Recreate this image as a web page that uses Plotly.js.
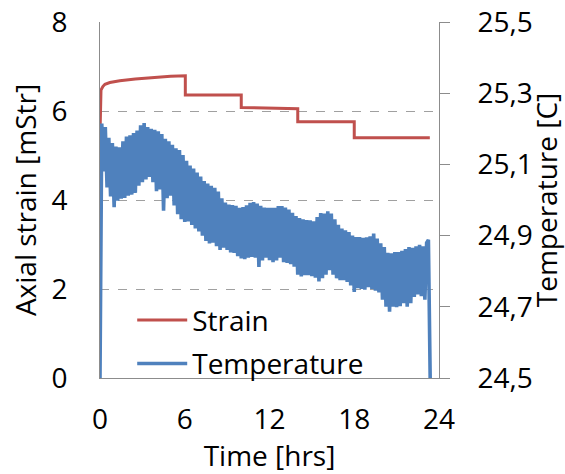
<!DOCTYPE html>
<html>
<head>
<meta charset="utf-8">
<script src="https://cdn.plot.ly/plotly-3.0.1.min.js"></script>
<style>
html,body{margin:0;padding:0;background:#fff;}
#chart{width:565px;height:474px;}
</style>
</head>
<body>
<div id="chart"></div>
<script>
// Strain series (step-like), time in hours
var strainTime = [0, 0.03, 0.07, 0.2, 0.35, 0.7, 1.4, 2.5, 3.5, 5.0, 6.04, 6.04, 10.0, 10.0, 14.0, 14.0, 18.0, 18.0, 23.35];
var strainValues = [5.46, 6.2, 6.47, 6.55, 6.6, 6.64, 6.68, 6.72, 6.75, 6.78, 6.79, 6.36, 6.36, 6.08, 6.05, 5.76, 5.76, 5.40, 5.40];

// Temperature series, sampled every 0.125 h starting at 0 h (readings off the noisy band)
var tempStart = 0;
var tempStep = 0.125;
var tempValues = [
24.500, 25.215, 25.080, 25.205, 25.035, 25.175, 25.010, 25.160, 24.980, 25.150,
24.998, 25.148, 25.004, 25.165, 25.006, 25.178, 25.012, 25.182, 25.015, 25.188,
25.020, 25.195, 25.040, 25.210, 25.050, 25.216, 25.058, 25.205, 25.065, 25.200,
25.050, 25.197, 25.025, 25.193, 25.030, 25.185, 24.970, 25.172, 25.005, 25.165,
25.012, 25.155, 24.985, 25.145, 24.960, 25.140, 24.946, 25.126, 24.938, 25.110,
24.940, 25.097, 24.930, 25.088, 24.920, 25.077, 24.912, 25.066, 24.900, 25.053,
24.885, 25.046, 24.878, 25.040, 24.880, 25.034, 24.870, 25.024, 24.860, 25.005,
24.866, 24.993, 24.860, 24.987, 24.853, 24.986, 24.851, 24.984, 24.842, 24.978,
24.836, 24.980, 24.834, 24.985, 24.838, 24.992, 24.840, 24.994, 24.838, 24.990,
24.812, 24.984, 24.830, 24.979, 24.838, 24.978, 24.831, 24.978, 24.825, 24.978,
24.830, 24.983, 24.838, 24.983, 24.825, 24.979, 24.823, 24.973, 24.820, 24.964,
24.813, 24.955, 24.790, 24.949, 24.785, 24.946, 24.789, 24.944, 24.789, 24.943,
24.786, 24.940, 24.782, 24.952, 24.771, 24.963, 24.780, 24.962, 24.790, 24.968,
24.803, 24.962, 24.790, 24.946, 24.780, 24.930, 24.775, 24.920, 24.775, 24.915,
24.770, 24.910, 24.760, 24.900, 24.742, 24.896, 24.752, 24.896, 24.750, 24.894,
24.748, 24.895, 24.755, 24.898, 24.750, 24.906, 24.745, 24.892, 24.740, 24.878,
24.720, 24.868, 24.700, 24.852, 24.686, 24.850, 24.700, 24.854, 24.699, 24.854,
24.702, 24.857, 24.710, 24.862, 24.700, 24.868, 24.710, 24.866, 24.728, 24.870,
24.735, 24.874, 24.730, 24.870, 24.720, 24.880, 24.888, 24.500
];

var xTicks = [0, 6, 12, 18, 24];
var yLeftTicks = [0, 2, 4, 6, 8];
var yRightTicks = [24.5, 24.7, 24.9, 25.1, 25.3, 25.5];

var FONT = "'Open Sans', 'Noto Sans', sans-serif";
var AXISGRAY = '#8c8c8c';

var traces = [
  {
    x: strainTime, y: strainValues, name: 'Strain', type: 'scatter', mode: 'lines',
    line: {color: '#C0504D', width: 3}, yaxis: 'y', legendgroup: 'a'
  },
  {
    x0: tempStart, dx: tempStep, y: tempValues, name: 'Temperature', type: 'scatter', mode: 'lines',
    line: {color: '#4F81BD', width: 3.6}, yaxis: 'y2', legendgroup: 'b'
  }
];

var layout = {
  width: 565, height: 474,
  margin: {l: 100, r: 126, t: 22, b: 96},
  paper_bgcolor: '#ffffff', plot_bgcolor: '#ffffff',
  separators: ',.',
  font: {family: FONT, size: 28, color: '#000'},
  showlegend: true,
  legend: {
    x: 0.095, y: 0.232, xanchor: 'left', yanchor: 'top',
    bgcolor: 'rgba(0,0,0,0)', borderwidth: 0,
    font: {family: FONT, size: 28, color: '#000'},
    traceorder: 'grouped', tracegroupgap: 4, itemwidth: 50
  },
  xaxis: {
    range: [0, 24], tickvals: xTicks, ticktext: xTicks.map(String),
    showgrid: false, zeroline: false, showline: true, linecolor: AXISGRAY, linewidth: 1,
    ticks: '', ticklabelstandoff: 16,
    title: {text: 'Time [hrs]', font: {family: FONT, size: 28}, standoff: 6},
    fixedrange: true
  },
  yaxis: {
    range: [0, 8], tickvals: yLeftTicks,
    showgrid: true, gridcolor: '#a0a0a0', griddash: 'dash', gridwidth: 1,
    zeroline: false, showline: true, linecolor: AXISGRAY, linewidth: 1,
    ticks: '', ticklabelstandoff: 26,
    title: {text: 'Axial strain [mStr]', font: {family: FONT, size: 28}, standoff: 6},
    fixedrange: true
  },
  yaxis2: {
    range: [24.5, 25.5], tickvals: yRightTicks, tickformat: '.1f',
    overlaying: 'y', side: 'right',
    showgrid: false, zeroline: false, showline: true, linecolor: AXISGRAY, linewidth: 1,
    ticks: 'outside', ticklen: 10, tickcolor: AXISGRAY, tickwidth: 1, ticklabelstandoff: 22,
    title: {text: 'Temperature [C]', font: {family: FONT, size: 28}, standoff: 2},
    fixedrange: true
  }
};

Plotly.newPlot('chart', traces, layout, {staticPlot: true, displayModeBar: false});
</script>
</body>
</html>
